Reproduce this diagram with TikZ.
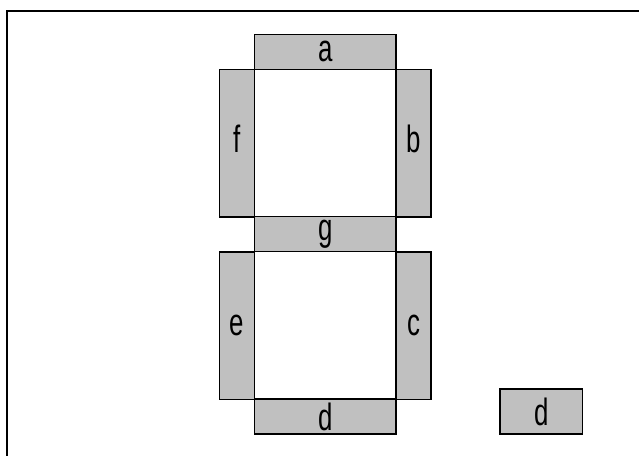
\documentclass[tikz,border=0pt]{standalone}
\usepackage{fontspec}
\setmainfont{Liberation Sans}[FakeStretch=0.68]
\begin{document}
\begin{tikzpicture}[x=1pt,y=-1pt,
  seg/.style={draw=black,line width=1.5pt,fill=segfill,inner sep=0pt,outer sep=0pt,
    font=\fontsize{38}{38}\selectfont},
  hseg/.style={seg,minimum width=141.7pt,minimum height=35pt},
  vseg/.style={seg,minimum width=35pt,minimum height=147.5pt,text height=25pt,text depth=6pt},
  frame/.style={draw=black,line width=2pt}]
\definecolor{segfill}{RGB}{192,192,192}
\useasboundingbox (0,0) rectangle (639,456);
\coordinate (ftop) at (639,10.5);
\coordinate (fcorner) at (6.7,10.5);
\coordinate (fbot) at (6.7,456);
\draw[frame] (ftop) -- (fcorner) -- (fbot);
\node[vseg] (f) at (236.8,143) {f};
\node[vseg] (b) at (413.5,143) {b};
\node[vseg] (e) at (236.8,325.5) {e};
\node[vseg] (c) at (413.5,325.5) {c};
\node[hseg] (a) at (325.2,51.8) {a};
\node[hseg] (g) at (325.2,234.2) {g};
\node[hseg] (d) at (325.2,416.7) {d};
\node[seg,minimum width=82.7pt,minimum height=45pt] (dp) at (541.3,411.5) {d};
\end{tikzpicture}
\end{document}
